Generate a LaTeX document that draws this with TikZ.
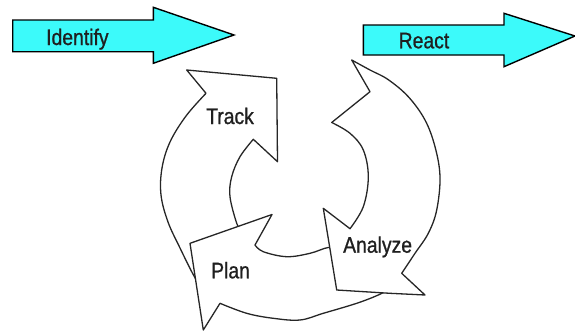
\documentclass[tikz,border=0pt]{standalone}
\usepackage{fontspec}
\setmainfont{Liberation Sans}
\newfontfamily\lblfont[FakeStretch=0.86,FakeBold=0.9]{Liberation Sans}
\definecolor{bannercyan}{RGB}{60,250,250}
\begin{document}
\begin{tikzpicture}[x=1pt,y=-1pt,
  banner/.style={draw=black, line width=1.4pt, fill=bannercyan, line join=miter},
  cyc/.style={draw=black!85, line width=1.3pt, fill=white, line join=round},
  lbl/.style={font=\lblfont\fontsize{22.5}{22.5}\selectfont, inner sep=0pt, anchor=base west, text=black!88}]
\useasboundingbox (0,0) rectangle (575,332);
% top banner arrows
\draw[banner] (12.7,20) -- (153.3,20) -- (153.3,7.3) -- (234,35) -- (153.3,63.3) -- (153.3,51.7) -- (12.7,51.7) -- cycle;
\draw[banner] (363.3,25) -- (504,25) -- (504,13.3) -- (575,36) -- (504,66.7) -- (504,55) -- (363.3,55) -- cycle;
% Track arrow
\draw[cyc] (186.7,70) -- (276.7,78.3) -- (277.5,161.7) -- (253.3,139.3)
  -- plot[smooth, tension=0.6] coordinates {(253.3,139.3) (240,156.7) (231.7,176.7) (230,196.7) (236.7,223.3) (241,230)}
  -- (197,281)
  -- plot[smooth, tension=0.6] coordinates {(197,281) (191.7,271.7) (180,248) (168,222) (161,195) (162,168) (170,142) (186,116) (206,93.3)}
  -- cycle;
% Plan arrow
\draw[cyc] (203.3,330) -- (190,243.3) -- (272,214.5) -- (255,245)
  -- plot[smooth, tension=0.6] coordinates {(255,245) (263.3,251.7) (286.7,256.7) (310,253.3) (328.3,247.5) (336,251)}
  -- (387,290)
  -- plot[smooth, tension=0.6] coordinates {(387,290) (378.3,295) (356.7,303.3) (323.3,313.3) (300,320) (273.3,318.3) (246.7,313.3) (220,303.3)}
  -- cycle;
% Analyze arrow
\draw[cyc] (351.7,60)
  -- plot[smooth, tension=0.6] coordinates {(351.7,60) (370,70) (388,79.5) (408.3,96.7) (425,120) (435,146.7) (440,176.7) (436.7,210) (428.3,233.3) (415,253.3) (401.7,273.3)}
  -- (425,295) -- (390,293.3) -- (336.7,290) -- (323.3,208.3) -- (350,228.7)
  -- plot[smooth, tension=0.6] coordinates {(350,228.7) (363.3,206.7) (368.3,176.7) (363.3,150) (350,133.3) (331.7,122.5)}
  -- (370,91.7) -- cycle;
% labels
\node[lbl] (identify) at (46,45) {Identify};
\node[lbl] (react) at (398.5,48.3) {React};
\node[lbl] (track) at (206,124) {Track};
\node[lbl] (analyze) at (343,252.7) {Analyze};
\node[lbl] (plan) at (211,278.3) {Plan};
\end{tikzpicture}
\end{document}
